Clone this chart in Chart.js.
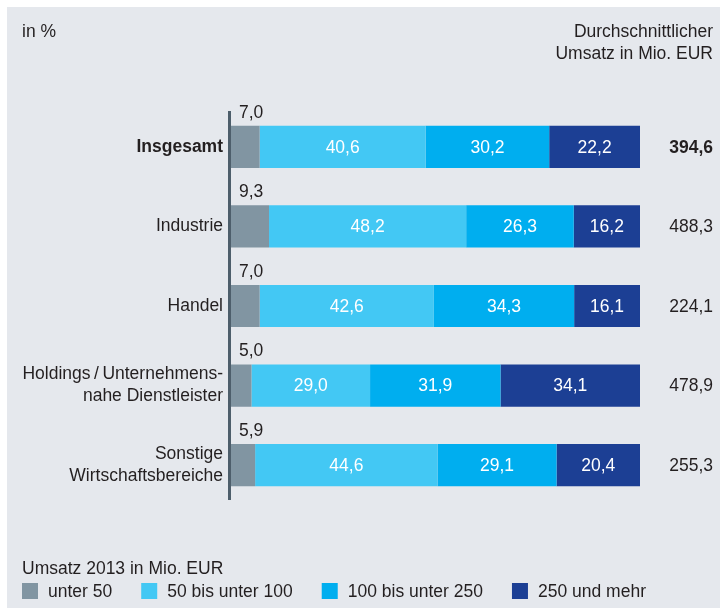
<!DOCTYPE html>
<html>
<head>
<meta charset="utf-8">
<script src="https://cdn.jsdelivr.net/npm/chart.js@4"></script>
<style>
  body { margin: 0; background: #fff; }
  canvas { display: block; }
</style>
</head>
<body>
<canvas id="myChart" width="720" height="608"></canvas>
<script>
const categories = ['Insgesamt', 'Industrie', 'Handel', ['Holdings\u2009/\u2009Unternehmens-', 'nahe Dienstleister'], ['Sonstige', 'Wirtschaftsbereiche']];
const seriesNames = ['unter 50', '50 bis unter 100', '100 bis unter 250', '250 und mehr'];
const unter50 = [7.0, 9.3, 7.0, 5.0, 5.9];
const bis100 = [40.6, 48.2, 42.6, 29.0, 44.6];
const bis250 = [30.2, 26.3, 34.3, 31.9, 29.1];
const ab250 = [22.2, 16.2, 16.1, 34.1, 20.4];
const avgUmsatz = [394.6, 488.3, 224.1, 478.9, 255.3];

const colors = ['#8195a2', '#43c8f4', '#00aeef', '#1c3f94'];
const FONT = '"Liberation Sans", Arial, sans-serif';
const SIZE = 17.5;
const TEXT = '#231f20';

function fmt(v) {
  return v.toFixed(1).replace('.', ',');
}

// background, axis line, labels, right column, legend
const extras = {
  id: 'extras',
  beforeDraw(chart) {
    const c = chart.ctx;
    c.save();
    c.fillStyle = '#fff';
    c.fillRect(0, 0, chart.width, chart.height);
    c.fillStyle = '#e5e8ed';
    c.fillRect(7, 7, chart.width - 7, chart.height - 7);
    c.restore();
  },
  afterDatasetsDraw(chart) {
    const c = chart.ctx;
    const area = chart.chartArea;
    c.save();

    // axis line
    c.strokeStyle = '#4d5e6b';
    c.lineWidth = 3;
    c.beginPath();
    c.moveTo(area.left - 1.5, area.top + 4);
    c.lineTo(area.left - 1.5, area.bottom - 5);
    c.stroke();

    c.textBaseline = 'middle';
    c.font = SIZE + 'px ' + FONT;

    chart.data.datasets.forEach((ds, di) => {
      const meta = chart.getDatasetMeta(di);
      meta.data.forEach((bar, i) => {
        const txt = fmt(ds.data[i]);
        if (di === 0) {
          c.fillStyle = TEXT;
          c.textAlign = 'left';
          c.fillText(txt, bar.base + 8, bar.y - bar.height / 2 - 13);
        } else {
          c.fillStyle = '#fff';
          c.textAlign = 'center';
          c.fillText(txt, (bar.x + bar.base) / 2, bar.y + 1);
        }
      });
    });

    // right column
    const yScale = chart.scales.y;
    c.fillStyle = TEXT;
    c.textAlign = 'right';
    avgUmsatz.forEach((v, i) => {
      c.font = (i === 0 ? 'bold ' : '') + SIZE + 'px ' + FONT;
      c.fillText(fmt(v), 713, yScale.getPixelForValue(i) + 1);
    });

    c.font = SIZE + 'px ' + FONT;
    c.fillText('Durchschnittlicher', 713, 32);
    c.fillText('Umsatz in Mio. EUR', 713, 54);
    c.textAlign = 'left';
    c.fillText('in %', 22, 32);

    // legend
    c.fillText('Umsatz 2013 in Mio. EUR', 22, 569);
    let x = 22;
    seriesNames.forEach((name, i) => {
      c.fillStyle = colors[i];
      c.fillRect(x, 583, 16, 16);
      x += 26;
      c.fillStyle = TEXT;
      c.fillText(name, x, 592);
      x += c.measureText(name).width + 29;
    });
    c.restore();
  }
};

const ctx = document.getElementById('myChart').getContext('2d');
const myChart = new Chart(ctx, {
  type: 'bar',
  data: {
    labels: categories,
    datasets: [unter50, bis100, bis250, ab250].map((d, i) => ({
      label: seriesNames[i],
      data: d,
      backgroundColor: colors[i],
      borderWidth: 0,
      barPercentage: 0.53,
      categoryPercentage: 1
    }))
  },
  options: {
    indexAxis: 'y',
    responsive: false,
    animation: false,
    layout: { padding: { top: 107, bottom: 103, right: 80, left: 0 } },
    plugins: {
      legend: { display: false },
      tooltip: { enabled: false }
    },
    scales: {
      x: { stacked: true, min: 0, max: 100, display: false },
      y: {
        stacked: true,
        grid: { display: false, drawTicks: false },
        border: { display: false },
        afterFit(scale) { scale.width = 231; },
        ticks: {
          padding: 8,
          color: TEXT,
          font: (c) => ({ family: FONT, size: SIZE, lineHeight: 1.26, weight: c.index === 0 ? 'bold' : 'normal' })
        }
      }
    }
  },
  plugins: [extras]
});
</script>
</body>
</html>
